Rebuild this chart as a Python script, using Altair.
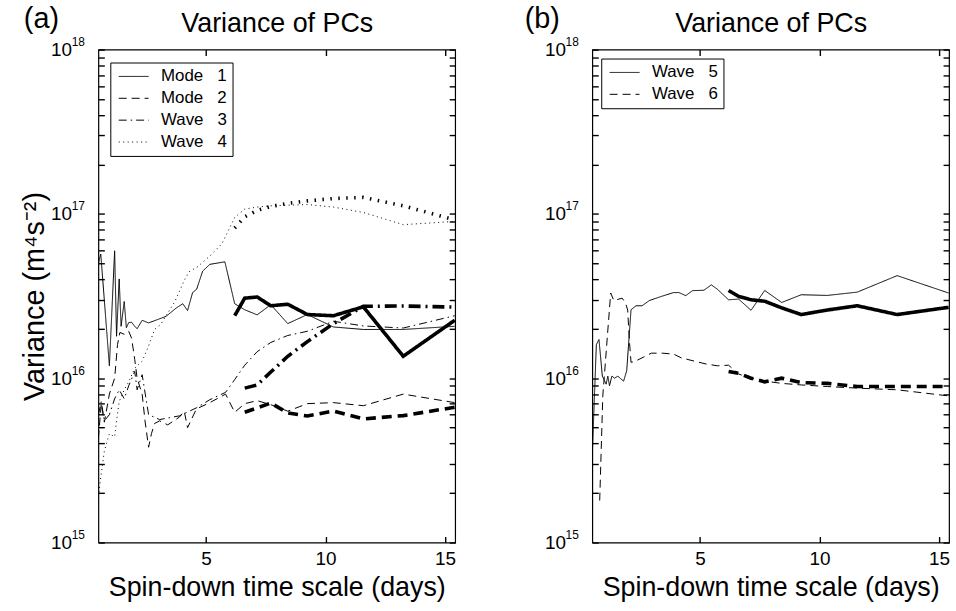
import altair as alt
import pandas as pd

FONT = "Liberation Sans"

# ---------------- panel (a) data ----------------
a_mode1_x = [0.5, 0.6, 0.96, 1.18, 1.26, 1.37, 1.45, 1.58, 1.67, 1.77, 1.89, 2.02, 2.12, 2.33, 2.6,
             2.96, 3.33, 3.75, 4.03, 4.23, 4.44, 4.61, 4.86, 5.16, 5.79,
             6.2, 6.62, 7.14, 7.71, 8.42, 9.24, 10.33, 11.58, 13.25, 15.4]
a_mode1_v = [5.0e16, 5.7e16, 1.19e16, 5.96e16, 1.80e16, 4.02e16, 2.07e16, 2.93e16, 2.03e16, 2.18e16,
             2.19e16, 2.07e16, 2.0e16, 2.25e16, 2.17e16, 2.27e16, 2.38e16, 2.67e16, 2.84e16, 2.58e16,
             3.32e16, 3.48e16, 4.48e16, 4.93e16, 5.11e16,
             2.84e16, 2.61e16, 2.43e16, 2.80e16, 2.15e16, 2.44e16, 2.05e16, 1.98e16, 1.98e16, 2.07e16]
a_mode1_thick_x = [6.2, 6.62, 7.14, 7.71, 8.42, 9.24, 10.33, 11.58, 13.25, 15.4]
a_mode1_thick_v = [2.40e16, 3.07e16, 3.12e16, 2.76e16, 2.82e16, 2.44e16, 2.40e16, 2.72e16, 1.36e16, 2.25e16]

a_mode2_x = [0.5, 0.62, 0.75, 0.96, 1.18, 1.3, 1.4, 1.58, 1.77, 1.89, 2.02, 2.12, 2.33, 2.45, 2.6,
             2.72, 2.85, 3.06, 3.4, 3.89, 4.09, 4.23, 4.6, 5.16, 5.82,
             6.2, 6.62, 7.14, 7.71, 8.42, 9.24, 10.33, 11.58, 13.25, 15.4]
a_mode2_v = [4.3e15, 7.0e15, 5.4e15, 8.0e15, 1.0e16, 1.6e16, 1.9e16, 1.85e16, 1.93e16, 1.75e16,
             1.3e16, 1.0e16, 8.0e15, 5.5e15, 3.8e15, 4.6e15, 5.3e15, 5.5e15, 5.2e15, 5.8e15,
             6.3e15, 5.0e15, 6.5e15, 7.1e15, 8.0e15,
             6.2e15, 7.0e15, 7.3e15, 6.9e15, 6.3e15, 7.0e15, 7.1e15, 6.8e15, 8.0e15, 7.1e15]
a_mode2_thick_x = [6.62, 7.14, 7.71, 8.42, 9.24, 10.33, 11.58, 13.25, 15.4]
a_mode2_thick_v = [6.2e15, 6.6e15, 7.06e15, 6.15e15, 5.89e15, 6.31e15, 5.65e15, 5.92e15, 6.65e15]

a_wave3_x = [0.5, 0.62, 0.75, 0.96, 1.18, 1.37, 1.58, 1.77, 2.02, 2.12, 2.33, 2.6, 3.06, 3.89,
             4.6, 5.16, 5.82,
             6.2, 6.62, 7.14, 7.71, 8.42, 9.24, 10.33, 11.58, 13.25, 15.4]
a_wave3_v = [6.0e15, 7.2e15, 5.5e15, 6.0e15, 7.5e15, 8.5e15, 7.5e15, 9.0e15, 1.1e16, 8.5e15,
             1.05e16, 6.0e15, 5.6e15, 5.9e15, 6.6e15, 7.4e15, 8.2e15,
             9.8e15, 1.2e16, 1.45e16, 1.65e16, 1.82e16, 1.93e16, 2.22e16, 2.08e16, 2.02e16, 2.4e16]
a_wave3_thick_x = [6.62, 7.14, 7.71, 8.42, 9.24, 10.33, 11.58, 13.25, 15.4]
a_wave3_thick_v = [8.7e15, 9.1e15, 1.09e16, 1.36e16, 1.67e16, 2.15e16, 2.74e16, 2.75e16, 2.71e16]

a_wave4_x = [0.5, 0.6, 0.75, 0.96, 1.18, 1.26, 1.37, 1.58, 1.77, 2.02, 2.33, 2.6, 2.85, 3.1, 3.7,
             4.1, 4.3, 4.65, 5.2, 5.67,
             6.2, 6.62, 7.14, 7.71, 8.42, 9.24, 10.33, 11.58, 13.25, 15.4]
a_wave4_v = [1.9e15, 2.5e15, 3.6e15, 4.6e15, 4.4e15, 5.5e15, 7.2e15, 8.5e15, 9.5e15, 1.15e16,
             1.27e16, 1.57e16, 1.98e16, 2.12e16, 2.93e16, 3.96e16, 4.45e16, 4.77e16, 5.61e16, 6.6e16,
             9.5e16, 1.07e17, 1.1e17, 1.12e17, 1.13e17, 1.14e17, 1.10e17, 1.02e17, 8.6e16, 9.0e16]
a_wave4_thick_x = [6.2, 6.62, 7.14, 7.71, 8.42, 9.24, 10.33, 11.58, 13.25, 15.4]
a_wave4_thick_v = [8.2e16, 9.6e16, 1.05e17, 1.11e17, 1.16e17, 1.20e17, 1.24e17, 1.26e17, 1.12e17, 9.2e16]

# ---------------- panel (b) data ----------------
b_wave5_x = [0.5, 0.67, 0.78, 0.92, 1.08, 1.15, 1.22, 1.32, 1.43, 1.57, 1.66, 1.81, 1.94, 2.12,
             2.33, 2.58, 2.89, 3.37, 3.9, 4.13, 4.41, 4.69, 5.17, 5.48, 5.73,
             6.2, 6.62, 7.14, 7.71, 8.42, 9.24, 10.33, 11.58, 13.25, 15.4]
b_wave5_v = [3.4e15, 1.6e16, 1.72e16, 1.03e16, 9.2e15, 1.03e16, 9.0e15, 1.03e16, 1.0e16, 1.03e16,
             1.0e16, 9.6e15, 1.11e16, 2.61e16, 2.76e16, 2.76e16, 2.97e16, 3.14e16, 3.32e16, 3.32e16,
             3.18e16, 3.41e16, 3.43e16, 3.70e16, 3.48e16,
             3.0e16, 3.03e16, 2.59e16, 3.42e16, 2.89e16, 3.22e16, 3.19e16, 3.34e16, 4.21e16, 3.30e16]
b_wave5_thick_x = [6.2, 6.62, 7.14, 7.71, 8.42, 9.24, 10.33, 11.58, 13.25, 15.4]
b_wave5_thick_v = [3.42e16, 3.15e16, 3.0e16, 2.94e16, 2.68e16, 2.44e16, 2.6e16, 2.76e16, 2.44e16, 2.7e16]

b_wave6_x = [0.81, 0.94, 1.27, 1.4, 1.75, 1.89, 1.98, 2.05, 2.12, 2.26, 2.97, 3.45, 3.91, 4.22,
             4.77, 5.26, 5.73,
             6.2, 6.62, 7.14, 7.71, 8.42, 9.24, 10.33, 11.58, 13.25, 15.4]
b_wave6_v = [1.8e15, 7.8e15, 3.3e16, 2.97e16, 3.07e16, 2.87e16, 2.6e16, 1.7e16, 1.25e16, 1.26e16,
             1.42e16, 1.42e16, 1.40e16, 1.33e16, 1.27e16, 1.22e16, 1.19e16,
             1.2e16, 1.06e16, 1.0e16, 9.6e15, 9.3e15, 9.1e15, 8.9e15, 8.7e15, 8.5e15, 7.8e15]
b_wave6_thick_x = [6.2, 6.62, 7.14, 7.71, 8.42, 9.24, 10.33, 11.58, 13.25, 15.4]
b_wave6_thick_v = [1.10e16, 1.07e16, 1.0e16, 9.5e15, 1.0e16, 9.4e15, 9.3e15, 8.9e15, 8.9e15, 8.9e15]

# ---------------- axis ticks ----------------
MAJOR_TICKS = [1e15, 1e16, 1e17, 1e18]
ALL_TICKS = MAJOR_TICKS + [k * 10.0 ** e for e in (15, 16, 17) for k in range(2, 10)]
X_TICKS = [5, 10, 15]
X_DOMAIN = [0.5, 15.42]
Y_DOMAIN = [1e15, 1e18]

# line styles (series name, dash pattern)
DASH_SOLID = [1, 0]
STYLE_A = {
    "Mode 1": DASH_SOLID, "Mode 2": [8, 5], "Wave 3": [8, 4, 1.5, 4], "Wave 4": [1, 3.5],
    "Mode 1 thick": DASH_SOLID, "Mode 2 thick": [10, 6], "Wave 3 thick": [12, 5, 2, 5],
    "Wave 4 thick": [1.5, 6.5],
}
STYLE_B = {
    "Wave 5": DASH_SOLID, "Wave 6": [8, 5],
    "Wave 5 thick": DASH_SOLID, "Wave 6 thick": [10, 6],
}


def make_df(entries):
    rows = []
    for name, weight, xs, vs in entries:
        for xv, vv in zip(xs, vs):
            rows.append({"x": xv, "v": vv, "series": name, "weight": weight})
    return pd.DataFrame(rows)


df_a = make_df([
    ("Mode 1", "thin", a_mode1_x, a_mode1_v),
    ("Mode 2", "thin", a_mode2_x, a_mode2_v),
    ("Wave 3", "thin", a_wave3_x, a_wave3_v),
    ("Wave 4", "thin", a_wave4_x, a_wave4_v),
    ("Mode 1 thick", "thick", a_mode1_thick_x, a_mode1_thick_v),
    ("Mode 2 thick", "thick", a_mode2_thick_x, a_mode2_thick_v),
    ("Wave 3 thick", "thick", a_wave3_thick_x, a_wave3_thick_v),
    ("Wave 4 thick", "thick", a_wave4_thick_x, a_wave4_thick_v),
])
df_b = make_df([
    ("Wave 5", "thin", b_wave5_x, b_wave5_v),
    ("Wave 6", "thin", b_wave6_x, b_wave6_v),
    ("Wave 5 thick", "thick", b_wave5_thick_x, b_wave5_thick_v),
    ("Wave 6 thick", "thick", b_wave6_thick_x, b_wave6_thick_v),
])

TICK = 6
BASE_AXIS = dict(domain=False, grid=False, ticks=True, tickColor="black", tickWidth=1.4,
                 tickOpacity=1, labelColor="black", labelFont=FONT, titleFont=FONT,
                 titleColor="black", titleFontWeight="normal", minExtent=0, zindex=1)
TEN_EXPR = "abs(log(datum.value) / LN10 - round(log(datum.value) / LN10)) < 0.001 ? '10' : ''"
EXP_EXPR = "'' + round(log(datum.value) / LN10)"
NBSP3 = "\u00a0\u00a0\u00a0"
NBSP2 = "\u00a0\u00a0"


def panel(df, letter, letter_x, styles, legend_names, y_title, legend_x, legend_y):
    xscale = alt.Scale(domain=X_DOMAIN, nice=False, zero=False)
    yscale = alt.Scale(type="log", domain=Y_DOMAIN, nice=False)
    names = list(styles.keys())
    dashes = list(styles.values())

    lines = alt.Chart(df).mark_line(color="black", clip=True, strokeCap="butt").encode(
        x=alt.X("x:Q", scale=xscale, axis=alt.Axis(
            orient="bottom", values=X_TICKS, tickSize=TICK, offset=-TICK, labelFontSize=19,
            labelPadding=7, title="Spin-down time scale (days)", titleFontSize=27,
            titlePadding=6, **BASE_AXIS)),
        y=alt.Y("v:Q", scale=yscale, axis=alt.Axis(
            orient="left", values=ALL_TICKS, tickSize=TICK, offset=-TICK, labelExpr=TEN_EXPR,
            labelFontSize=19, labelPadding=27, labelOverlap=False, labelBaseline="middle",
            title=y_title, titleFontSize=29, titlePadding=1, **BASE_AXIS)),
        strokeDash=alt.StrokeDash("series:N", scale=alt.Scale(domain=names, range=dashes),
                                  legend=alt.Legend(
                                      orient="none", legendX=legend_x, legendY=legend_y,
                                      title=None, values=legend_names,
                                      labelExpr="replace(datum.label, ' ', '" + NBSP3 + "') + '"
                                                + NBSP2 + "'",
                                      symbolType="stroke", symbolSize=900, symbolStrokeWidth=1,
                                      symbolStrokeColor="black", symbolOffset=3,
                                      clipHeight=18, labelFont=FONT,
                                      labelFontSize=17, labelColor="black",
                                      strokeColor="black", fillColor="white", padding=5,
                                      rowPadding=4, labelOffset=12, cornerRadius=0)),
        strokeWidth=alt.StrokeWidth("weight:N", scale=alt.Scale(domain=["thin", "thick"],
                                                                range=[1.0, 3.6]), legend=None),
        order=alt.Order("x:Q"),
    )

    exponents = alt.Chart(df).mark_point(opacity=0).encode(
        x=alt.X("x:Q", scale=xscale, axis=alt.Axis(
            orient="top", values=X_TICKS, tickSize=TICK, offset=-TICK, labels=False,
            title="Variance of PCs", titleFontSize=27, titlePadding=12, **BASE_AXIS)),
        y=alt.Y("v:Q", scale=yscale, axis=alt.Axis(
            orient="left", values=MAJOR_TICKS, ticks=False, labelExpr=EXP_EXPR,
            labelFontSize=12, labelPadding=14, labelOffset=-8, labelBaseline="middle",
            labelOverlap=False, title=None, domain=False, grid=False, labelColor="black",
            labelFont=FONT, minExtent=0)),
    )

    mirror = alt.Chart(df).mark_point(opacity=0).encode(
        x=alt.X("x:Q", scale=xscale, axis=None),
        y=alt.Y("v:Q", scale=yscale, axis=alt.Axis(
            orient="right", values=ALL_TICKS, tickSize=TICK, offset=-TICK, labels=False,
            title=None, **BASE_AXIS)),
    )

    tag = alt.Chart(pd.DataFrame({"tag": [letter]})).mark_text(
        align="left", baseline="alphabetic", font=FONT, fontSize=29, color="black"
    ).encode(text="tag:N", x=alt.value(letter_x), y=alt.value(-22))

    return alt.layer(lines, exponents, mirror, tag).resolve_axis(
        x="independent", y="independent"
    ).properties(width=359, height=496)


left = panel(df_a, "(a)", -75, STYLE_A, ["Mode 1", "Mode 2", "Wave 3", "Wave 4"],
             "Variance (m\u2074s\u207b\u00b2)", 12, 13)
right = panel(df_b, "(b)", -68, STYLE_B, ["Wave 5", "Wave 6"], None, 9, 9)

chart = alt.hconcat(left, right, spacing=66).resolve_scale(
    strokeDash="independent", strokeWidth="independent", x="independent", y="independent"
).resolve_legend(strokeDash="independent").configure_view(
    stroke="black", strokeWidth=1.2
).properties(padding={"left": 20, "top": 2, "right": 4, "bottom": 4}, background="white")

chart.save("out.html", embed_options={"renderer": "svg", "actions": False})
